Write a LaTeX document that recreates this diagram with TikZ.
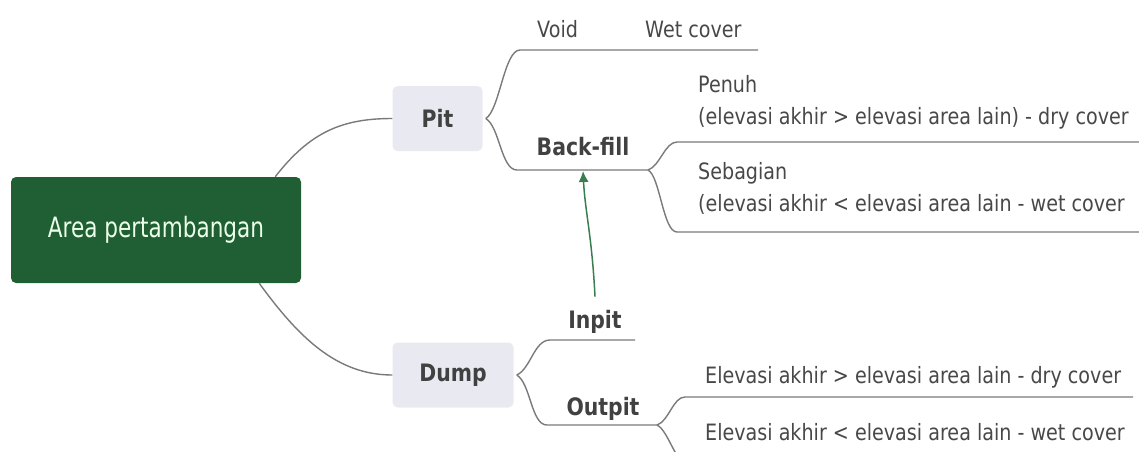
\documentclass[tikz,border=0pt]{standalone}
\usepackage{fontspec}
\setmainfont{DejaVu Sans}[FakeStretch=0.85]
\newfontfamily\rootfont{DejaVu Sans}[FakeStretch=0.77]
\usepackage{tikz}
\usetikzlibrary{positioning,calc}
\usetikzlibrary{arrows.meta}
\definecolor{rootgreen}{HTML}{1F5F33}
\definecolor{topicfill}{HTML}{E9E9F1}
\definecolor{branchgray}{HTML}{7A7A7A}
\definecolor{textgray}{HTML}{484848}
\definecolor{flowgreen}{HTML}{3A7D50}

\begin{document}
\begin{tikzpicture}[x=1pt,y=-1pt,
	root/.style={fill=rootgreen,rounded corners=5pt,text=green!8,minimum width=290pt,minimum height=106pt,font=\rootfont\fontsize{28}{32}\selectfont},
	topic/.style={fill=topicfill,rounded corners=5pt,text=textgray!90!black,minimum height=65pt,font=\bfseries\fontsize{24}{28}\selectfont},
	sub/.style={anchor=base,inner sep=0pt,text=textgray!90!black,font=\bfseries\fontsize{24}{28}\selectfont},
	leaf/.style={anchor=base west,inner sep=0pt,align=left,text=textgray,font=\fontsize{22.5}{32}\selectfont},
	branch/.style={draw=branchgray,line width=1.4pt},
	flow/.style={draw=flowgreen,line width=1.5pt,-{Latex[length=11pt,width=10pt]}}]
	\useasboundingbox (0,0) rectangle (1139,451);
	% main topics
	\node[root] (area) at (156,230) {Area pertambangan};
	\node[topic,minimum width=90pt] (pit) at (437.5,118.5) {Pit};
	\node[topic,minimum width=121pt] (dump) at (453,375) {Dump};
	% pit side (two-line leaves sit on their last line)
	\node[leaf] (void) at (537,37) {Void};
	\node[leaf] (wetcover) at (645,37) {Wet cover};
	\node[sub] (backfill) at (583,155) {Back-fill};
	\node[leaf] (penuh) at (698,124) {Penuh\\(elevasi akhir > elevasi area lain) - dry cover};
	\node[leaf] (sebagian) at (698,211) {Sebagian\\(elevasi akhir < elevasi area lain - wet cover};
	% dump side
	\node[sub] (inpit) at (595,328) {Inpit};
	\node[sub] (outpit) at (603,415) {Outpit};
	\node[leaf] (dry) at (705,383) {Elevasi akhir > elevasi area lain - dry cover};
	\node[leaf] (wet) at (705,440) {Elevasi akhir < elevasi area lain - wet cover};
	% branch ends
	\coordinate (pit-out) at ([xshift=3pt]pit.east);
	\coordinate (void-a) at (520,50);   \coordinate (void-b) at (758,50);
	\coordinate (bf-a) at (517,170);    \coordinate (bf-b) at (648,170);
	\coordinate (pn-a) at (677,142);    \coordinate (pn-b) at (1139,142);
	\coordinate (sb-a) at (677,232);    \coordinate (sb-b) at (1139,232);
	\coordinate (dump-out) at ([xshift=3pt]dump.east);
	\coordinate (in-a) at (550,340);    \coordinate (in-b) at (635,340);
	\coordinate (out-a) at (547,425);   \coordinate (out-b) at (657,425);
	\coordinate (dry-a) at (685,397);   \coordinate (dry-b) at (1133,397);
	\coordinate (wet-a) at (690,466);   \coordinate (wet-b) at (1139,466);
	\coordinate (bf-tip) at (583,171);
	\path[branch]
	([xshift=-26pt]area.north east) .. controls +(35,-45) and +(-50,0) .. (pit.west)
	([xshift=-42pt]area.south east) .. controls +(40,55) and +(-55,0) .. (dump.west)
	(pit-out) .. controls +(14,-8) and +(-16,0) .. (void-a) -- (void-b)
	(pit-out) .. controls +(14,8) and +(-16,0) .. (bf-a) -- (bf-b)
	(bf-b) .. controls +(12,-4) and +(-12,0) .. (pn-a) -- (pn-b)
	(bf-b) .. controls +(12,6) and +(-14,0) .. (sb-a) -- (sb-b)
	(dump-out) .. controls +(14,-6) and +(-16,0) .. (in-a) -- (in-b)
	(dump-out) .. controls +(14,8) and +(-16,0) .. (out-a) -- (out-b)
	(out-b) .. controls +(12,-4) and +(-12,0) .. (dry-a) -- (dry-b)
	(out-b) .. controls +(12,6) and +(-14,0) .. (wet-a) -- (wet-b);
	% inpit feeds the back-fill
	\draw[flow] ([yshift=13pt]inpit.north) .. controls +(-3,-60) and +(2,40) .. (bf-tip);
\end{tikzpicture}
\end{document}
